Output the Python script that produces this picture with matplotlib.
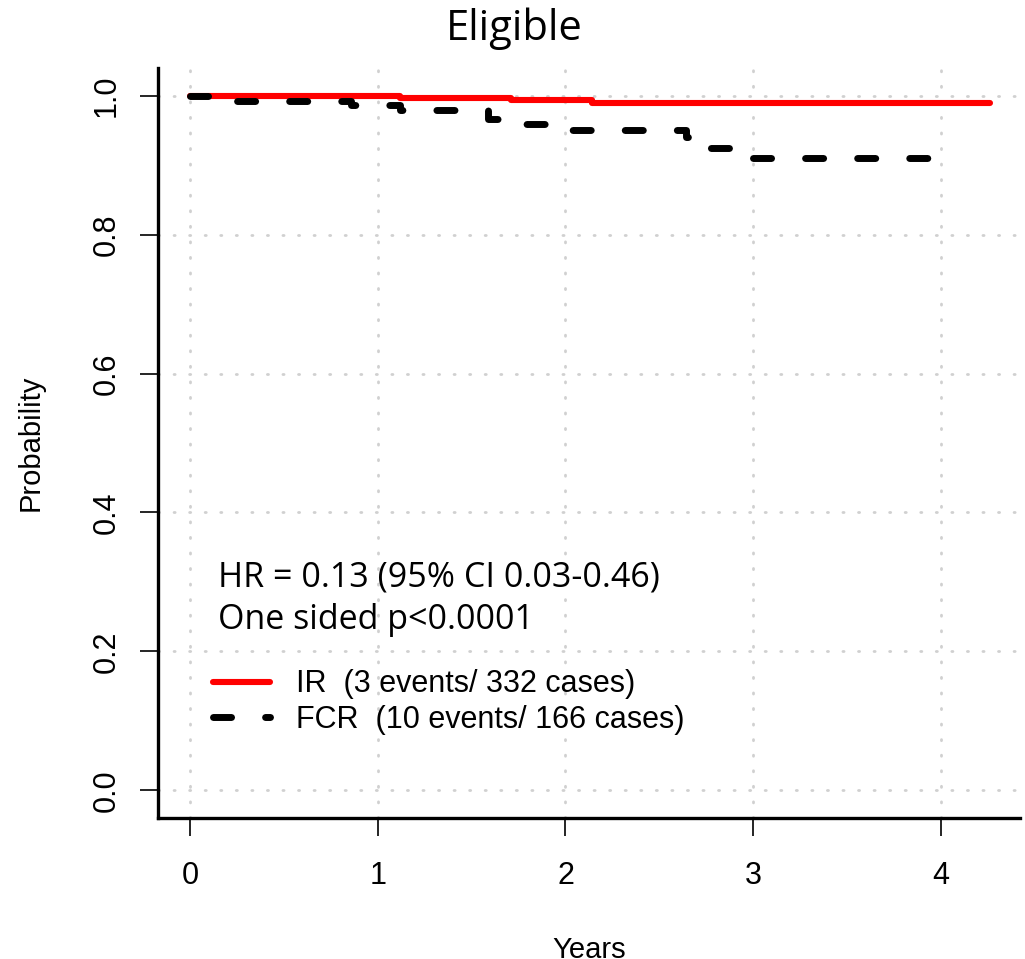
import numpy as np
import matplotlib
matplotlib.use('Agg')
import matplotlib.pyplot as plt

# Kaplan-Meier step data (years, probability)
ir_t = [0.0, 1.12, 1.71, 2.14, 4.26]
ir_p = [1.000, 0.997, 0.994, 0.990, 0.990]

fcr_t = [0.0, 0.14, 0.86, 1.12, 1.59, 1.64, 2.00, 2.64, 2.72, 2.93, 3.93]
fcr_p = [1.000, 0.993, 0.987, 0.980, 0.966, 0.959, 0.951, 0.940, 0.925, 0.910, 0.910]

x_ticks = [0, 1, 2, 3, 4]
y_ticks = [0.0, 0.2, 0.4, 0.6, 0.8, 1.0]
y_labels = ['0.0', '0.2', '0.4', '0.6', '0.8', '1.0']

labels = ['IR  (3 events/ 332 cases)', 'FCR  (10 events/ 166 cases)']
stats = ['HR = 0.13 (95% CI 0.03-0.46)', 'One sided p<0.0001']

plt.rcParams['font.family'] = ['Liberation Sans', 'DejaVu Sans']

fig = plt.figure(figsize=(10.25, 9.59), dpi=100)
ax = fig.add_axes([0.1541, 0.1470, 0.9951 - 0.1541, 0.9291 - 0.1470])

ax.step(ir_t, ir_p, where='post', color='#ff0000', lw=4.4,
        solid_capstyle='round', solid_joinstyle='round', label=labels[0], zorder=3)
ax.step(fcr_t, fcr_p, where='post', color='black', lw=5.0,
        dashes=(2.6, 4.9), dash_capstyle='round', dash_joinstyle='round',
        label=labels[1], zorder=3)

ax.set_xlim(-0.17, 4.42)
ax.set_ylim(-0.04, 1.04)
ax.set_xticks(x_ticks)
ax.set_yticks(y_ticks)
ax.set_yticklabels(y_labels, rotation=90, va='center')
ax.tick_params(axis='both', length=13, width=1.2, labelsize=22)
ax.tick_params(axis='y', pad=13)
ax.tick_params(axis='x', pad=18)

# light dotted grid
ax.grid(True, color='#d0d0d0', lw=2.0, linestyle=(0, (0.4, 5.2)),
        dash_capstyle='round', zorder=0)
ax.set_axisbelow(True)

for s in ['top', 'right']:
    ax.spines[s].set_visible(False)
for s in ['left', 'bottom']:
    ax.spines[s].set_linewidth(2.4)

ax.set_xlabel('Years', fontsize=21, va='top')
ax.xaxis.set_label_coords(0.5, -0.157)
ax.set_ylabel('Probability', fontsize=21)
ax.yaxis.set_label_coords(-0.131, 0.5)

fig.text(0.502, 0.970, 'Eligible', ha='center', va='center',
         fontsize=30, family='Open Sans')

ax.text(0.0696, 0.321, stats[0], transform=ax.transAxes, fontsize=24.5,
        family='Open Sans', va='center')
ax.text(0.0696, 0.264, stats[1], transform=ax.transAxes, fontsize=24.5,
        family='Open Sans', va='center')

leg = ax.legend(loc='center left', bbox_to_anchor=(0.0638, 0.1547), frameon=False,
                fontsize=22, handlelength=1.86, handletextpad=0.85,
                labelspacing=0.18, borderaxespad=0, borderpad=0)

fig.savefig('out.png', dpi=100)
